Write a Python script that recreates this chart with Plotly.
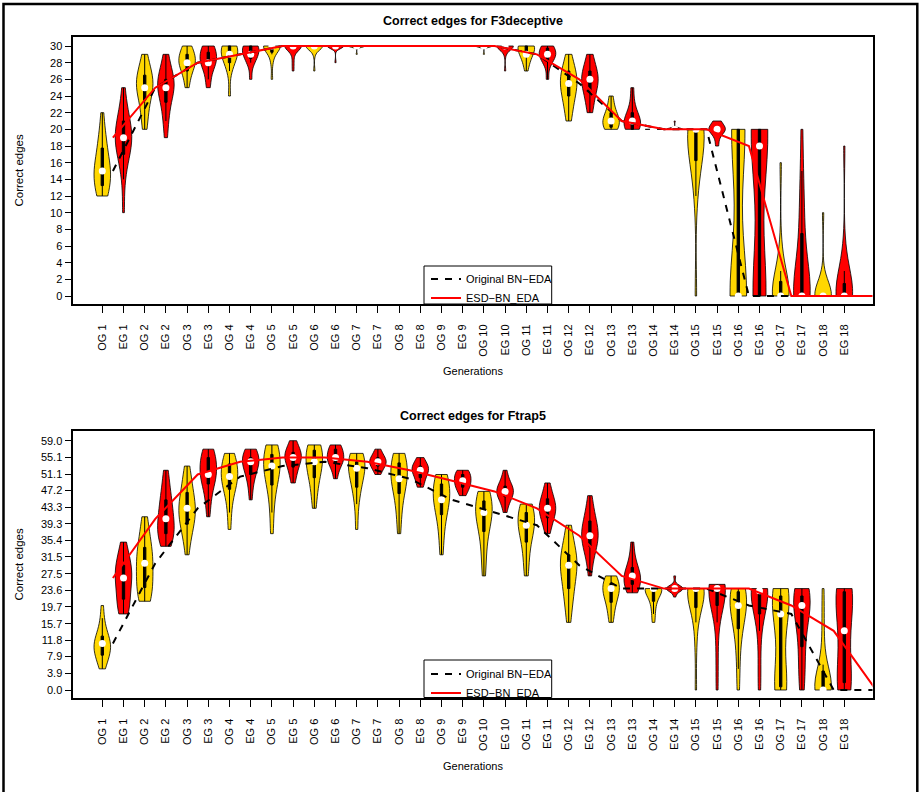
import numpy as np
import plotly.graph_objects as go

W, H = 921, 792
FONT = "Liberation Sans, Arial, Helvetica, sans-serif"

generations = list(range(1, 19))
tick_labels = []
for g in generations:
    tick_labels += [f"OG {g}", f"EG {g}"]

# ---------------- F3deceptive: correct edges per run ----------------
f3_og = [
    [12, 12, 12, 13, 13, 14, 14, 15, 15, 15, 15, 16, 16, 17, 18, 18, 19, 20, 22],
    [20, 21, 22, 23, 24, 24, 25, 25, 25, 26, 26, 26, 27, 27, 28, 29],
    [25, 26, 27, 27, 28, 28, 28, 28, 29, 29, 29, 30, 30],
    [24, 27, 28, 28, 29, 29, 29, 29, 30, 30, 30, 30, 30],
    [26, 28, 29, 29, 30, 30, 30, 30, 30, 30, 30, 30, 30, 30, 30],
    [27, 29, 30, 30, 30, 30, 30, 30, 30, 30, 30, 30, 30, 30, 30],
    [29, 30, 30, 30, 30, 30, 30, 30, 30, 30, 30, 30, 30, 30, 30],
    [30, 30, 30, 30, 30, 30, 30, 30, 30, 30, 30, 30, 30, 30, 30],
    [30, 30, 30, 30, 30, 30, 30, 30, 30, 30, 30, 30, 30, 30, 30],
    [29, 30, 30, 30, 30, 30, 30, 30, 30, 30, 30, 30, 30, 30, 30],
    [27, 28, 28, 29, 29, 29, 29, 30, 30, 30, 30, 30, 30],
    [21, 22, 23, 24, 24, 25, 25, 26, 26, 26, 27, 27, 28, 29],
    [20, 20, 20, 21, 21, 21, 21, 22, 22, 23, 24],
    [20, 20, 20, 20, 20, 20, 20, 20, 20, 20, 20, 20, 20, 20, 20],
    [0, 12, 15, 16, 17, 18, 19, 20, 20, 20, 20, 20, 20, 20, 20],
    [0, 0, 0, 0, 0, 0, 0, 0, 0, 0, 10, 20, 20, 20, 20, 20, 20, 20, 20],
    [0, 0, 0, 0, 0, 0, 0, 0, 0, 0, 1, 2, 3, 5, 16],
    [0, 0, 0, 0, 0, 0, 0, 0, 0, 0, 0, 0, 1, 2, 10],
]
f3_eg = [
    [10, 14, 16, 17, 17, 18, 18, 19, 19, 19, 19, 20, 20, 21, 21, 22, 23, 25],
    [19, 21, 22, 23, 24, 25, 25, 25, 25, 26, 26, 26, 27, 28, 29],
    [25, 26, 27, 28, 28, 28, 28, 29, 29, 29, 30, 30, 30],
    [26, 28, 28, 29, 29, 29, 29, 30, 30, 30, 30, 30],
    [27, 28, 29, 30, 30, 30, 30, 30, 30, 30, 30, 30, 30, 30, 30],
    [28, 30, 30, 30, 30, 30, 30, 30, 30, 30, 30, 30, 30, 30, 30],
    [30, 30, 30, 30, 30, 30, 30, 30, 30, 30, 30, 30, 30, 30, 30],
    [30, 30, 30, 30, 30, 30, 30, 30, 30, 30, 30, 30, 30, 30, 30],
    [30, 30, 30, 30, 30, 30, 30, 30, 30, 30, 30, 30, 30, 30, 30],
    [27, 29, 30, 30, 30, 30, 30, 30, 30, 30, 30, 30, 30, 30, 30],
    [26, 28, 28, 29, 29, 29, 29, 29, 30, 30, 30],
    [22, 23, 24, 25, 25, 26, 26, 26, 27, 27, 28, 29],
    [20, 20, 20, 21, 21, 21, 21, 22, 23, 25],
    [20, 20, 20, 20, 20, 20, 20, 20, 20, 20, 20, 20, 20, 20, 21],
    [18, 19, 20, 20, 20, 20, 20, 20, 21, 21],
    [0, 0, 0, 0, 0, 0, 0, 10, 18, 19, 20, 20, 20, 20, 20, 20, 20],
    [0, 0, 0, 0, 0, 0, 0, 0, 0, 0, 1, 2, 4, 6, 8, 10, 12, 15, 20],
    [0, 0, 0, 0, 0, 0, 0, 0, 0, 0, 0, 1, 2, 3, 5, 18],
]
f3_median_og = [15, 25, 28, 29, 30, 30, 30, 30, 30, 30, 29, 25.5, 21, 20, 20, 0, 0, 0, 0]
f3_median_eg = [19, 25, 28, 29, 30, 30, 30, 30, 30, 30, 29, 26, 21, 20, 20, 18, 0, 0, 0]

# ---------------- Ftrap5: correct edges per run ----------------
ft_og = [
    [5, 6, 7, 8, 8, 9, 9, 10, 10, 11, 11, 11, 12, 12, 13, 14, 15, 17, 20],
    [21, 21, 22, 23, 24, 25, 26, 27, 28, 30, 30, 31, 32, 33, 34, 35, 37, 39, 41],
    [32, 35, 37, 38, 39, 40, 41, 42, 42, 43, 43, 44, 45, 46, 47, 48, 50, 51, 53],
    [38, 42, 45, 47, 48, 49, 50, 50, 51, 51, 52, 53, 54, 55, 55, 56],
    [37, 42, 46, 48, 50, 51, 52, 53, 53, 54, 55, 56, 57, 58, 58],
    [43, 46, 48, 50, 51, 52, 53, 54, 54, 55, 56, 57, 58, 58, 58],
    [38, 44, 47, 48, 50, 51, 52, 53, 53, 54, 54, 55, 56, 56],
    [37, 41, 44, 46, 48, 49, 50, 50, 51, 52, 53, 54, 55, 56, 56],
    [32, 36, 39, 41, 43, 44, 45, 45, 46, 47, 48, 49, 50, 51, 51],
    [27, 31, 34, 37, 39, 40, 41, 42, 42, 43, 44, 45, 46, 47, 47],
    [27, 30, 33, 35, 37, 38, 39, 39, 40, 41, 42, 43, 44, 44],
    [16, 19, 21, 23, 24, 25, 27, 28, 29, 30, 30, 31, 31, 32, 33, 35, 37, 39],
    [16, 18, 20, 21, 22, 23, 24, 24, 24, 25, 26, 27, 27],
    [16, 18, 20, 21, 22, 23, 24, 24, 24, 24, 24, 24, 24, 24],
    [0, 10, 16, 18, 20, 21, 22, 23, 24, 24, 24, 24, 24, 24, 24, 24, 24],
    [0, 5, 10, 13, 15, 17, 18, 19, 20, 20, 21, 22, 23, 24, 24, 24, 24],
    [0, 0, 0, 0, 1, 3, 8, 14, 18, 19, 20, 21, 22, 23, 24, 24, 24],
    [0, 0, 0, 0, 0, 0, 0, 0, 0, 1, 2, 3, 4, 6, 12, 18, 24],
]
ft_eg = [
    [18, 18, 19, 20, 21, 22, 23, 24, 25, 26, 27, 27, 28, 28, 29, 30, 31, 32, 33, 35],
    [34, 35, 36, 36, 37, 38, 38, 39, 40, 41, 42, 43, 44, 45, 46, 48, 50, 52],
    [41, 44, 46, 48, 49, 50, 51, 51, 51, 52, 53, 54, 55, 55, 56, 57, 57],
    [45, 48, 50, 51, 52, 53, 54, 54, 54, 55, 55, 56, 57, 57],
    [49, 51, 52, 53, 54, 55, 55, 55, 56, 56, 57, 58, 59],
    [50, 52, 53, 54, 54, 55, 55, 55, 56, 57, 57, 58, 58],
    [51, 52, 53, 53, 54, 54, 54, 55, 55, 56, 57],
    [48, 49, 50, 51, 52, 52, 52, 53, 53, 54, 55],
    [46, 47, 48, 48, 49, 49, 50, 50, 51, 51, 52, 52],
    [42, 44, 45, 46, 46, 47, 47, 47, 48, 48, 49, 50, 52],
    [37, 39, 40, 41, 42, 43, 43, 43, 44, 45, 46, 47, 49],
    [27, 30, 32, 33, 34, 35, 36, 36, 36, 37, 38, 38, 39, 40, 41, 42, 44, 46],
    [23, 23, 24, 25, 25, 26, 27, 27, 27, 28, 29, 30, 32, 35],
    [22, 24, 24, 24, 24, 24, 24, 24, 24, 24, 27],
    [0, 8, 16, 20, 22, 23, 24, 24, 24, 24, 24, 25, 25, 25],
    [0, 6, 14, 18, 20, 22, 23, 24, 24, 24, 24, 24, 24, 24],
    [0, 2, 5, 8, 11, 14, 16, 18, 20, 20, 21, 21, 22, 23, 24, 24, 24],
    [0, 0, 0, 1, 2, 4, 8, 12, 14, 16, 20, 22, 23, 24, 24, 24, 24],
]
ft_median_og = [11, 30, 43, 50.5, 53, 54, 52.5, 50, 45, 42, 39, 29.5, 24, 24, 24, 20, 18, 0, 0]
ft_median_eg = [26.5, 40.5, 51, 54, 55, 55, 54, 52, 49.5, 47, 43, 36.5, 27, 24, 24, 24, 20, 14, 0]

ft_ticks = [0.0, 3.9, 7.9, 11.8, 15.7, 19.7, 23.6, 27.5, 31.5, 35.4, 39.3, 43.3, 47.2, 51.1, 55.1, 59.0]
f3_ticks = list(range(0, 31, 2))

GOLD = "#FFD700"
RED = "#FF0000"

fig = go.Figure()


def bw_of(vals):
    v = np.asarray(vals, dtype=float)
    sd = v.std(ddof=1)
    if sd == 0:
        return None
    return 1.059 * sd * len(v) ** (-0.2)


def add_panel(og, eg, line_og, line_eg, xa, ya, legend):
    positions, meds = [], []
    for i in range(len(og)):
        for k, (vals, col) in enumerate(((og[i], GOLD), (eg[i], RED))):
            pos = 2 * i + k
            fig.add_trace(go.Violin(
                y=vals, x0=pos, width=0.78, spanmode="hard",
                bandwidth=bw_of(vals), fillcolor=col, opacity=1,
                line=dict(color="black", width=0.8),
                box=dict(visible=True, width=0.14, fillcolor="black",
                         line=dict(color="black", width=1)),
                meanline=dict(visible=False), points=False,
                showlegend=False, hoverinfo="skip", xaxis=xa, yaxis=ya))
            positions.append(pos)
            meds.append(float(np.median(vals)))
    fig.add_trace(go.Scatter(
        x=positions, y=meds, mode="markers",
        marker=dict(color="white", size=7, line=dict(width=0)),
        showlegend=False, hoverinfo="skip", xaxis=xa, yaxis=ya))
    mid = [2 * j + 0.5 for j in range(len(line_og))]
    fig.add_trace(go.Scatter(
        x=mid, y=line_og, mode="lines", name="Original BN\u2212EDA",
        line=dict(color="black", width=2, dash="7px,7px"),
        xaxis=xa, yaxis=ya, legend=legend))
    fig.add_trace(go.Scatter(
        x=mid, y=line_eg, mode="lines", name="ESD\u2212BN_EDA",
        line=dict(color=RED, width=2),
        xaxis=xa, yaxis=ya, legend=legend))


add_panel(f3_og, f3_eg, f3_median_og, f3_median_eg, "x", "y", "legend")
add_panel(ft_og, ft_eg, ft_median_og, ft_median_eg, "x2", "y2", "legend2")


def px(p):
    return p / W


def py(p):
    return 1 - p / H


tickfont = dict(family=FONT, size=11, color="black")
xcommon = dict(
    type="linear", range=[(72.5 - 102.3) / 21.2, (872.5 - 102.3) / 21.2],
    domain=[px(72.5), px(872.5)], tickmode="array",
    tickvals=list(range(len(tick_labels))), ticktext=tick_labels,
    tickangle=-90, tickfont=tickfont, ticks="outside", ticklen=7,
    ticklabelstandoff=7,
    tickcolor="black", showline=True, mirror=True, linewidth=2,
    linecolor="black", showgrid=False, zeroline=False, automargin=False,
    fixedrange=True)
ycommon = dict(
    type="linear", tickfont=tickfont, ticks="outside", ticklen=6,
    tickcolor="black", showline=True, mirror=True, linewidth=2,
    linecolor="black", showgrid=False, zeroline=False, automargin=False,
    fixedrange=True, tickmode="array")

y_top = [-(304 - 296) / 8.333, (296 - 37) / 8.333]
y_bot = [-(698.3 - 690) / 4.2254, (690 - 431) / 4.2254]

legend_common = dict(
    xanchor="left", yanchor="top", bgcolor="rgba(0,0,0,0)",
    borderwidth=0, font=dict(family=FONT, size=11, color="black"),
    itemwidth=30, tracegroupgap=0)

fig.update_layout(
    width=W, height=H, margin=dict(l=0, r=0, t=0, b=0),
    paper_bgcolor="white", plot_bgcolor="white",
    violinmode="overlay",
    xaxis=dict(**xcommon, anchor="y"),
    yaxis=dict(**ycommon, domain=[py(304), py(37)], range=y_top,
               tickvals=f3_ticks, ticktext=[str(t) for t in f3_ticks],
               anchor="x"),
    xaxis2=dict(**xcommon, anchor="y2"),
    yaxis2=dict(**ycommon, domain=[py(698.3), py(431)], range=y_bot,
                tickvals=ft_ticks, ticktext=[f"{t:.1f}" for t in ft_ticks],
                anchor="x2"),
    legend=dict(**legend_common, x=px(426), y=py(264.5)),
    legend2=dict(**legend_common, x=px(426), y=py(659.5)),
    showlegend=True,
)

ann = []
for title, yc in (("Correct edges for F3deceptive", 21.5), ("Correct edges for Ftrap5", 415.5)):
    ann.append(dict(text=title, x=px(472.5), y=py(yc), xref="paper", yref="paper",
                    showarrow=False, xanchor="center", yanchor="middle",
                    font=dict(family=FONT, size=12.5, color="black", weight="bold")))
for yc in (170.5, 564.5):
    ann.append(dict(text="Correct edges", x=px(18), y=py(yc), xref="paper", yref="paper",
                    showarrow=False, textangle=-90, xanchor="center", yanchor="middle",
                    font=dict(family=FONT, size=11.5, color="black")))
for yc in (370.5, 766):
    ann.append(dict(text="Generations", x=px(472.5), y=py(yc), xref="paper", yref="paper",
                    showarrow=False, xanchor="center", yanchor="middle",
                    font=dict(family=FONT, size=11, color="black")))
fig.update_layout(annotations=ann)

# legend frames (white boxes behind the legend entries)
for top, bottom in ((266, 304), (660, 697.5)):
    fig.add_shape(type="rect", xref="paper", yref="paper", layer="above",
                  x0=px(424), x1=px(551.7), y0=py(bottom), y1=py(top),
                  line=dict(color="black", width=1), fillcolor="white")

# outer frame of the whole figure
fig.add_shape(type="rect", xref="paper", yref="paper",
              x0=px(3.5), x1=px(917.3), y0=-0.05, y1=py(4),
              line=dict(color="black", width=2.5), fillcolor="rgba(0,0,0,0)")

fig.write_html("out.html")
